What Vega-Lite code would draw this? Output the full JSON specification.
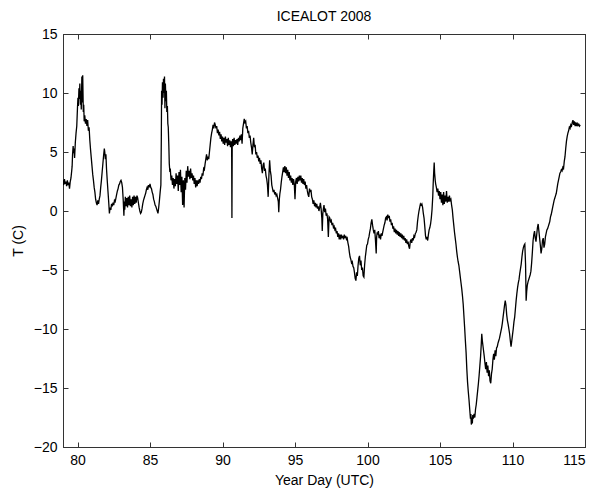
{
"$schema":"https://vega.github.io/schema/vega-lite/v6.json",
"width":522,"height":413,
"autosize":{"type":"none"},
"padding":{"left":63,"top":34,"right":15,"bottom":44},
"title":{"text":"ICEALOT 2008","fontSize":14,"font":"Liberation Sans","fontWeight":"normal","color":"#000","offset":3},
"datasets":{"s":[
{"d":79.0,"t":2.6},{"d":79.05,"t":2.2},{"d":79.1,"t":2.7},{"d":79.15,"t":2.3},{"d":79.2,"t":2.5},{"d":79.25,"t":2.1},{"d":79.3,"t":2.6},{"d":79.35,"t":2.2},{"d":79.4,"t":2.4},{"d":79.45,"t":1.9},{"d":79.5,"t":2.5},{"d":79.55,"t":2.8},{"d":79.6,"t":3.4},{"d":79.63,"t":3.8},{"d":79.66,"t":4.8},{"d":79.7,"t":5.5},{"d":79.73,"t":4.9},{"d":79.76,"t":5.3},{"d":79.8,"t":4.5},{"d":79.85,"t":5.8},{"d":79.9,"t":6.6},{"d":79.95,"t":7.2},{"d":80.0,"t":8.8},{"d":80.03,"t":9.6},{"d":80.06,"t":8.9},{"d":80.1,"t":10.4},{"d":80.13,"t":9.5},{"d":80.16,"t":10.8},{"d":80.2,"t":9.0},{"d":80.23,"t":10.2},{"d":80.26,"t":8.6},{"d":80.3,"t":11.4},{"d":80.33,"t":9.2},{"d":80.36,"t":11.5},{"d":80.4,"t":8.4},{"d":80.43,"t":9.0},{"d":80.46,"t":7.6},{"d":80.5,"t":8.1},{"d":80.55,"t":7.4},{"d":80.6,"t":7.8},{"d":80.65,"t":7.2},{"d":80.7,"t":7.7},{"d":80.75,"t":6.8},{"d":80.8,"t":7.1},{"d":80.85,"t":6.0},{"d":80.9,"t":5.2},{"d":80.95,"t":4.5},{"d":81.0,"t":3.8},{"d":81.05,"t":3.1},{"d":81.1,"t":2.6},{"d":81.15,"t":2.0},{"d":81.2,"t":1.6},{"d":81.25,"t":1.0},{"d":81.3,"t":0.7},{"d":81.35,"t":0.5},{"d":81.4,"t":0.9},{"d":81.45,"t":0.6},{"d":81.5,"t":1.0},{"d":81.55,"t":1.3},{"d":81.6,"t":2.0},{"d":81.65,"t":2.6},{"d":81.7,"t":3.3},{"d":81.75,"t":4.0},{"d":81.8,"t":4.7},{"d":81.85,"t":5.3},{"d":81.88,"t":5.0},{"d":81.92,"t":4.4},{"d":81.96,"t":4.8},{"d":82.0,"t":3.6},{"d":82.05,"t":2.6},{"d":82.1,"t":1.7},{"d":82.15,"t":0.8},{"d":82.2,"t":-0.2},{"d":82.25,"t":0.3},{"d":82.3,"t":0.1},{"d":82.35,"t":0.6},{"d":82.4,"t":0.4},{"d":82.45,"t":0.7},{"d":82.5,"t":0.5},{"d":82.55,"t":0.9},{"d":82.6,"t":0.8},{"d":82.65,"t":1.1},{"d":82.7,"t":1.4},{"d":82.75,"t":1.7},{"d":82.8,"t":1.9},{"d":82.85,"t":2.2},{"d":82.9,"t":2.3},{"d":82.95,"t":2.5},{"d":83.0,"t":2.6},{"d":83.05,"t":2.4},{"d":83.1,"t":2.0},{"d":83.15,"t":1.0},{"d":83.2,"t":-0.4},{"d":83.23,"t":0.8},{"d":83.26,"t":0.1},{"d":83.3,"t":1.2},{"d":83.35,"t":0.4},{"d":83.4,"t":1.1},{"d":83.45,"t":0.3},{"d":83.5,"t":1.2},{"d":83.55,"t":0.5},{"d":83.6,"t":1.3},{"d":83.65,"t":0.4},{"d":83.7,"t":1.0},{"d":83.75,"t":0.3},{"d":83.8,"t":1.2},{"d":83.85,"t":0.5},{"d":83.9,"t":1.3},{"d":83.95,"t":0.6},{"d":84.0,"t":1.2},{"d":84.05,"t":0.7},{"d":84.1,"t":1.3},{"d":84.15,"t":1.1},{"d":84.2,"t":0.7},{"d":84.25,"t":0.3},{"d":84.3,"t":0.0},{"d":84.35,"t":-0.2},{"d":84.4,"t":-0.1},{"d":84.45,"t":0.2},{"d":84.5,"t":0.6},{"d":84.55,"t":0.9},{"d":84.6,"t":1.1},{"d":84.65,"t":1.3},{"d":84.7,"t":1.5},{"d":84.75,"t":1.8},{"d":84.8,"t":2.0},{"d":84.85,"t":1.8},{"d":84.9,"t":2.2},{"d":84.95,"t":2.0},{"d":85.0,"t":2.3},{"d":85.05,"t":2.0},{"d":85.1,"t":1.9},{"d":85.15,"t":1.6},{"d":85.2,"t":1.4},{"d":85.25,"t":1.0},{"d":85.3,"t":0.8},{"d":85.35,"t":0.5},{"d":85.4,"t":0.4},{"d":85.45,"t":0.2},{"d":85.5,"t":0.0},{"d":85.55,"t":-0.2},{"d":85.6,"t":0.3},{"d":85.65,"t":0.9},{"d":85.7,"t":1.6},{"d":85.75,"t":2.2},{"d":85.78,"t":6.0},{"d":85.8,"t":10.2},{"d":85.83,"t":9.0},{"d":85.86,"t":10.9},{"d":85.9,"t":9.6},{"d":85.93,"t":11.2},{"d":85.96,"t":10.0},{"d":86.0,"t":11.4},{"d":86.03,"t":8.7},{"d":86.06,"t":10.8},{"d":86.1,"t":9.3},{"d":86.13,"t":10.2},{"d":86.16,"t":8.4},{"d":86.2,"t":8.9},{"d":86.23,"t":7.4},{"d":86.26,"t":7.1},{"d":86.3,"t":5.5},{"d":86.33,"t":4.0},{"d":86.37,"t":3.3},{"d":86.4,"t":3.6},{"d":86.45,"t":2.6},{"d":86.5,"t":3.0},{"d":86.55,"t":2.2},{"d":86.6,"t":2.8},{"d":86.65,"t":1.9},{"d":86.7,"t":2.7},{"d":86.75,"t":2.1},{"d":86.8,"t":3.2},{"d":86.85,"t":2.3},{"d":86.9,"t":3.0},{"d":86.95,"t":1.7},{"d":87.0,"t":3.3},{"d":87.05,"t":2.2},{"d":87.1,"t":3.5},{"d":87.15,"t":1.6},{"d":87.2,"t":2.9},{"d":87.25,"t":0.5},{"d":87.3,"t":2.6},{"d":87.35,"t":0.3},{"d":87.4,"t":2.8},{"d":87.45,"t":1.8},{"d":87.5,"t":3.4},{"d":87.55,"t":2.4},{"d":87.6,"t":3.8},{"d":87.65,"t":2.9},{"d":87.7,"t":3.4},{"d":87.75,"t":2.7},{"d":87.8,"t":3.6},{"d":87.85,"t":2.8},{"d":87.9,"t":3.2},{"d":87.95,"t":2.6},{"d":88.0,"t":3.0},{"d":88.05,"t":2.3},{"d":88.1,"t":2.8},{"d":88.15,"t":2.0},{"d":88.2,"t":2.6},{"d":88.25,"t":2.1},{"d":88.3,"t":2.6},{"d":88.35,"t":2.3},{"d":88.4,"t":2.7},{"d":88.45,"t":2.4},{"d":88.5,"t":2.9},{"d":88.55,"t":2.7},{"d":88.6,"t":3.2},{"d":88.65,"t":3.0},{"d":88.7,"t":3.6},{"d":88.75,"t":3.5},{"d":88.8,"t":4.0},{"d":88.85,"t":4.4},{"d":88.9,"t":4.8},{"d":88.95,"t":4.3},{"d":89.0,"t":4.6},{"d":89.05,"t":4.4},{"d":89.1,"t":5.0},{"d":89.15,"t":5.6},{"d":89.2,"t":6.2},{"d":89.25,"t":6.6},{"d":89.3,"t":6.9},{"d":89.35,"t":7.3},{"d":89.4,"t":7.0},{"d":89.45,"t":7.5},{"d":89.5,"t":7.3},{"d":89.55,"t":7.0},{"d":89.6,"t":7.2},{"d":89.65,"t":6.6},{"d":89.7,"t":6.9},{"d":89.75,"t":6.4},{"d":89.8,"t":6.7},{"d":89.85,"t":6.1},{"d":89.9,"t":6.5},{"d":89.95,"t":5.9},{"d":90.0,"t":6.3},{"d":90.05,"t":5.7},{"d":90.1,"t":6.2},{"d":90.15,"t":5.6},{"d":90.2,"t":6.3},{"d":90.25,"t":5.8},{"d":90.3,"t":6.1},{"d":90.35,"t":5.5},{"d":90.4,"t":6.2},{"d":90.45,"t":5.6},{"d":90.5,"t":6.0},{"d":90.55,"t":5.4},{"d":90.6,"t":5.9},{"d":90.63,"t":5.6},{"d":90.65,"t":-0.6},{"d":90.67,"t":5.7},{"d":90.7,"t":6.1},{"d":90.75,"t":5.5},{"d":90.8,"t":6.2},{"d":90.85,"t":5.6},{"d":90.9,"t":6.0},{"d":90.95,"t":5.7},{"d":91.0,"t":6.1},{"d":91.05,"t":5.6},{"d":91.1,"t":6.2},{"d":91.15,"t":5.9},{"d":91.2,"t":6.4},{"d":91.25,"t":6.0},{"d":91.3,"t":6.5},{"d":91.35,"t":5.7},{"d":91.4,"t":7.0},{"d":91.45,"t":7.4},{"d":91.5,"t":7.8},{"d":91.55,"t":7.5},{"d":91.6,"t":7.6},{"d":91.65,"t":7.0},{"d":91.7,"t":7.2},{"d":91.75,"t":6.6},{"d":91.8,"t":6.8},{"d":91.85,"t":6.2},{"d":91.9,"t":6.4},{"d":91.95,"t":5.8},{"d":92.0,"t":5.4},{"d":92.05,"t":4.8},{"d":92.1,"t":5.6},{"d":92.15,"t":6.2},{"d":92.2,"t":5.4},{"d":92.25,"t":5.6},{"d":92.3,"t":4.8},{"d":92.35,"t":5.0},{"d":92.4,"t":4.5},{"d":92.45,"t":4.7},{"d":92.5,"t":4.2},{"d":92.55,"t":4.5},{"d":92.6,"t":4.0},{"d":92.65,"t":4.3},{"d":92.7,"t":3.6},{"d":92.75,"t":3.2},{"d":92.8,"t":3.9},{"d":92.85,"t":4.1},{"d":92.9,"t":3.4},{"d":92.95,"t":3.6},{"d":93.0,"t":3.0},{"d":93.05,"t":2.7},{"d":93.1,"t":2.2},{"d":93.15,"t":1.2},{"d":93.2,"t":3.0},{"d":93.25,"t":4.3},{"d":93.3,"t":3.4},{"d":93.35,"t":3.0},{"d":93.4,"t":2.2},{"d":93.45,"t":1.9},{"d":93.5,"t":1.6},{"d":93.55,"t":1.8},{"d":93.6,"t":1.4},{"d":93.65,"t":1.6},{"d":93.7,"t":1.3},{"d":93.75,"t":1.4},{"d":93.8,"t":1.1},{"d":93.85,"t":0.8},{"d":93.88,"t":-0.1},{"d":93.92,"t":1.0},{"d":93.96,"t":1.5},{"d":94.0,"t":1.8},{"d":94.05,"t":2.4},{"d":94.1,"t":2.9},{"d":94.15,"t":3.3},{"d":94.2,"t":3.7},{"d":94.25,"t":3.3},{"d":94.3,"t":3.8},{"d":94.35,"t":3.2},{"d":94.4,"t":3.7},{"d":94.45,"t":3.0},{"d":94.5,"t":3.5},{"d":94.55,"t":2.8},{"d":94.6,"t":3.3},{"d":94.65,"t":2.6},{"d":94.7,"t":3.0},{"d":94.75,"t":2.4},{"d":94.8,"t":2.8},{"d":94.85,"t":2.2},{"d":94.9,"t":2.7},{"d":94.95,"t":2.3},{"d":95.0,"t":1.0},{"d":95.05,"t":2.5},{"d":95.1,"t":2.8},{"d":95.15,"t":2.3},{"d":95.2,"t":2.9},{"d":95.25,"t":2.5},{"d":95.3,"t":3.0},{"d":95.35,"t":2.6},{"d":95.4,"t":3.0},{"d":95.45,"t":2.4},{"d":95.5,"t":2.8},{"d":95.55,"t":2.3},{"d":95.6,"t":2.7},{"d":95.65,"t":2.2},{"d":95.7,"t":2.5},{"d":95.75,"t":1.9},{"d":95.8,"t":2.2},{"d":95.85,"t":1.7},{"d":95.9,"t":1.4},{"d":95.95,"t":1.2},{"d":96.0,"t":1.9},{"d":96.05,"t":1.6},{"d":96.1,"t":1.8},{"d":96.15,"t":1.2},{"d":96.2,"t":1.0},{"d":96.25,"t":0.6},{"d":96.3,"t":0.9},{"d":96.35,"t":0.4},{"d":96.4,"t":0.7},{"d":96.45,"t":0.3},{"d":96.5,"t":0.6},{"d":96.55,"t":0.2},{"d":96.6,"t":0.4},{"d":96.65,"t":0.0},{"d":96.7,"t":0.3},{"d":96.75,"t":0.7},{"d":96.8,"t":0.2},{"d":96.85,"t":-0.6},{"d":96.88,"t":-1.7},{"d":96.92,"t":-0.2},{"d":96.96,"t":0.2},{"d":97.0,"t":0.5},{"d":97.05,"t":-0.1},{"d":97.1,"t":0.2},{"d":97.15,"t":-0.4},{"d":97.2,"t":-0.2},{"d":97.25,"t":-0.7},{"d":97.3,"t":-2.2},{"d":97.35,"t":-0.5},{"d":97.4,"t":-0.6},{"d":97.45,"t":-0.9},{"d":97.5,"t":-0.8},{"d":97.55,"t":-1.2},{"d":97.6,"t":-1.0},{"d":97.65,"t":-1.4},{"d":97.7,"t":-1.3},{"d":97.75,"t":-1.6},{"d":97.8,"t":-1.5},{"d":97.85,"t":-1.9},{"d":97.9,"t":-1.7},{"d":97.95,"t":-2.2},{"d":98.0,"t":-1.9},{"d":98.05,"t":-2.4},{"d":98.1,"t":-2.0},{"d":98.15,"t":-2.4},{"d":98.2,"t":-2.0},{"d":98.25,"t":-2.3},{"d":98.3,"t":-2.1},{"d":98.35,"t":-2.4},{"d":98.4,"t":-2.0},{"d":98.45,"t":-2.3},{"d":98.5,"t":-2.1},{"d":98.55,"t":-2.4},{"d":98.6,"t":-2.3},{"d":98.65,"t":-2.7},{"d":98.7,"t":-3.0},{"d":98.75,"t":-3.5},{"d":98.8,"t":-3.9},{"d":98.85,"t":-4.1},{"d":98.9,"t":-4.4},{"d":98.95,"t":-4.3},{"d":99.0,"t":-4.7},{"d":99.05,"t":-4.8},{"d":99.1,"t":-5.2},{"d":99.15,"t":-5.7},{"d":99.2,"t":-5.9},{"d":99.25,"t":-5.2},{"d":99.3,"t":-5.5},{"d":99.35,"t":-4.6},{"d":99.4,"t":-4.0},{"d":99.45,"t":-3.8},{"d":99.5,"t":-4.6},{"d":99.55,"t":-4.2},{"d":99.6,"t":-5.0},{"d":99.65,"t":-4.8},{"d":99.7,"t":-5.5},{"d":99.75,"t":-5.6},{"d":99.8,"t":-4.6},{"d":99.85,"t":-3.9},{"d":99.9,"t":-3.4},{"d":99.95,"t":-2.9},{"d":100.0,"t":-2.8},{"d":100.05,"t":-2.4},{"d":100.1,"t":-2.2},{"d":100.15,"t":-1.8},{"d":100.2,"t":-1.5},{"d":100.25,"t":-1.0},{"d":100.3,"t":-0.7},{"d":100.35,"t":-1.2},{"d":100.4,"t":-1.6},{"d":100.45,"t":-1.9},{"d":100.5,"t":-1.6},{"d":100.55,"t":-2.5},{"d":100.6,"t":-3.6},{"d":100.63,"t":-2.2},{"d":100.67,"t":-1.8},{"d":100.7,"t":-2.0},{"d":100.75,"t":-1.7},{"d":100.8,"t":-2.3},{"d":100.85,"t":-2.0},{"d":100.9,"t":-2.4},{"d":100.95,"t":-1.9},{"d":101.0,"t":-2.1},{"d":101.05,"t":-1.8},{"d":101.1,"t":-1.5},{"d":101.15,"t":-1.2},{"d":101.2,"t":-1.0},{"d":101.25,"t":-0.6},{"d":101.3,"t":-0.5},{"d":101.35,"t":-0.8},{"d":101.4,"t":-0.3},{"d":101.45,"t":-0.6},{"d":101.5,"t":-0.4},{"d":101.55,"t":-0.9},{"d":101.6,"t":-0.7},{"d":101.65,"t":-1.2},{"d":101.7,"t":-1.0},{"d":101.75,"t":-1.5},{"d":101.8,"t":-1.3},{"d":101.85,"t":-1.8},{"d":101.9,"t":-1.5},{"d":101.95,"t":-1.9},{"d":102.0,"t":-1.6},{"d":102.05,"t":-2.0},{"d":102.1,"t":-1.7},{"d":102.15,"t":-2.1},{"d":102.2,"t":-1.8},{"d":102.25,"t":-2.2},{"d":102.3,"t":-1.9},{"d":102.35,"t":-2.3},{"d":102.4,"t":-2.0},{"d":102.45,"t":-2.4},{"d":102.5,"t":-2.1},{"d":102.55,"t":-2.5},{"d":102.6,"t":-2.3},{"d":102.65,"t":-2.7},{"d":102.7,"t":-2.4},{"d":102.75,"t":-2.8},{"d":102.8,"t":-2.6},{"d":102.85,"t":-3.0},{"d":102.9,"t":-3.2},{"d":102.95,"t":-2.6},{"d":103.0,"t":-2.4},{"d":103.05,"t":-2.7},{"d":103.1,"t":-2.3},{"d":103.15,"t":-2.5},{"d":103.2,"t":-2.1},{"d":103.25,"t":-2.2},{"d":103.3,"t":-1.9},{"d":103.35,"t":-1.8},{"d":103.4,"t":-1.6},{"d":103.45,"t":-0.9},{"d":103.5,"t":-0.4},{"d":103.55,"t":0.0},{"d":103.6,"t":0.3},{"d":103.65,"t":0.6},{"d":103.7,"t":0.5},{"d":103.75,"t":0.6},{"d":103.8,"t":0.3},{"d":103.85,"t":-0.2},{"d":103.9,"t":-0.6},{"d":103.95,"t":-1.3},{"d":104.0,"t":-2.1},{"d":104.05,"t":-2.4},{"d":104.1,"t":-2.2},{"d":104.15,"t":-2.5},{"d":104.2,"t":-2.0},{"d":104.25,"t":-1.6},{"d":104.3,"t":-1.4},{"d":104.35,"t":-1.1},{"d":104.4,"t":-0.6},{"d":104.45,"t":0.1},{"d":104.5,"t":1.2},{"d":104.53,"t":2.3},{"d":104.57,"t":3.4},{"d":104.6,"t":4.1},{"d":104.63,"t":3.2},{"d":104.67,"t":2.6},{"d":104.7,"t":2.3},{"d":104.75,"t":2.0},{"d":104.8,"t":1.6},{"d":104.85,"t":1.9},{"d":104.9,"t":1.3},{"d":104.95,"t":1.7},{"d":105.0,"t":1.0},{"d":105.05,"t":1.6},{"d":105.1,"t":0.7},{"d":105.15,"t":1.4},{"d":105.2,"t":0.5},{"d":105.25,"t":1.6},{"d":105.3,"t":0.6},{"d":105.35,"t":1.3},{"d":105.4,"t":0.8},{"d":105.45,"t":1.7},{"d":105.5,"t":0.7},{"d":105.55,"t":1.2},{"d":105.6,"t":0.8},{"d":105.65,"t":1.3},{"d":105.7,"t":0.9},{"d":105.75,"t":1.0},{"d":105.8,"t":0.5},{"d":105.85,"t":0.1},{"d":105.9,"t":-0.6},{"d":105.95,"t":-1.2},{"d":106.0,"t":-1.8},{"d":106.05,"t":-2.3},{"d":106.1,"t":-2.8},{"d":106.15,"t":-3.4},{"d":106.2,"t":-3.9},{"d":106.25,"t":-4.3},{"d":106.3,"t":-4.6},{"d":106.35,"t":-5.1},{"d":106.4,"t":-5.6},{"d":106.45,"t":-6.1},{"d":106.5,"t":-6.6},{"d":106.55,"t":-7.2},{"d":106.6,"t":-7.9},{"d":106.65,"t":-8.9},{"d":106.7,"t":-9.9},{"d":106.75,"t":-11.0},{"d":106.8,"t":-12.0},{"d":106.85,"t":-13.4},{"d":106.9,"t":-14.5},{"d":106.95,"t":-15.3},{"d":107.0,"t":-16.0},{"d":107.05,"t":-16.8},{"d":107.1,"t":-17.6},{"d":107.13,"t":-17.2},{"d":107.16,"t":-18.1},{"d":107.2,"t":-17.5},{"d":107.23,"t":-18.0},{"d":107.26,"t":-17.3},{"d":107.3,"t":-17.6},{"d":107.35,"t":-17.2},{"d":107.4,"t":-17.5},{"d":107.45,"t":-16.8},{"d":107.5,"t":-16.4},{"d":107.55,"t":-15.8},{"d":107.6,"t":-15.2},{"d":107.65,"t":-14.6},{"d":107.7,"t":-13.9},{"d":107.75,"t":-13.1},{"d":107.8,"t":-12.3},{"d":107.85,"t":-11.2},{"d":107.88,"t":-10.4},{"d":107.92,"t":-11.0},{"d":107.96,"t":-11.4},{"d":108.0,"t":-11.8},{"d":108.05,"t":-12.3},{"d":108.1,"t":-12.9},{"d":108.15,"t":-13.4},{"d":108.2,"t":-12.8},{"d":108.25,"t":-13.7},{"d":108.3,"t":-13.1},{"d":108.35,"t":-14.0},{"d":108.4,"t":-13.5},{"d":108.45,"t":-14.4},{"d":108.5,"t":-14.6},{"d":108.55,"t":-13.8},{"d":108.6,"t":-13.4},{"d":108.65,"t":-12.6},{"d":108.7,"t":-12.1},{"d":108.75,"t":-12.6},{"d":108.8,"t":-11.8},{"d":108.85,"t":-12.3},{"d":108.9,"t":-11.6},{"d":108.95,"t":-11.5},{"d":109.0,"t":-11.2},{"d":109.05,"t":-11.0},{"d":109.1,"t":-10.8},{"d":109.15,"t":-10.5},{"d":109.2,"t":-10.2},{"d":109.25,"t":-9.9},{"d":109.3,"t":-9.5},{"d":109.35,"t":-9.0},{"d":109.4,"t":-8.5},{"d":109.45,"t":-8.0},{"d":109.5,"t":-7.6},{"d":109.55,"t":-8.0},{"d":109.6,"t":-8.8},{"d":109.65,"t":-9.3},{"d":109.7,"t":-9.6},{"d":109.75,"t":-10.0},{"d":109.8,"t":-10.4},{"d":109.85,"t":-11.0},{"d":109.9,"t":-11.5},{"d":109.95,"t":-11.0},{"d":110.0,"t":-10.5},{"d":110.05,"t":-10.0},{"d":110.1,"t":-9.4},{"d":110.15,"t":-9.0},{"d":110.2,"t":-8.3},{"d":110.25,"t":-7.6},{"d":110.3,"t":-7.0},{"d":110.35,"t":-6.5},{"d":110.4,"t":-6.1},{"d":110.45,"t":-5.8},{"d":110.5,"t":-5.3},{"d":110.55,"t":-4.9},{"d":110.6,"t":-4.5},{"d":110.65,"t":-3.9},{"d":110.7,"t":-3.4},{"d":110.75,"t":-3.1},{"d":110.8,"t":-2.9},{"d":110.85,"t":-2.8},{"d":110.9,"t":-4.5},{"d":110.94,"t":-7.6},{"d":110.98,"t":-6.8},{"d":111.02,"t":-6.3},{"d":111.07,"t":-6.0},{"d":111.12,"t":-5.8},{"d":111.17,"t":-5.6},{"d":111.22,"t":-5.4},{"d":111.27,"t":-5.1},{"d":111.32,"t":-4.4},{"d":111.37,"t":-3.5},{"d":111.42,"t":-2.5},{"d":111.47,"t":-2.0},{"d":111.52,"t":-1.7},{"d":111.57,"t":-2.3},{"d":111.62,"t":-2.6},{"d":111.67,"t":-2.0},{"d":111.72,"t":-1.4},{"d":111.77,"t":-1.1},{"d":111.82,"t":-1.7},{"d":111.87,"t":-2.3},{"d":111.92,"t":-2.9},{"d":111.97,"t":-3.6},{"d":112.02,"t":-3.2},{"d":112.07,"t":-2.5},{"d":112.12,"t":-2.3},{"d":112.17,"t":-3.1},{"d":112.22,"t":-2.8},{"d":112.27,"t":-2.2},{"d":112.32,"t":-1.9},{"d":112.37,"t":-1.6},{"d":112.42,"t":-1.5},{"d":112.47,"t":-1.3},{"d":112.52,"t":-1.1},{"d":112.57,"t":-0.9},{"d":112.62,"t":-0.5},{"d":112.67,"t":-0.3},{"d":112.72,"t":0.0},{"d":112.77,"t":0.3},{"d":112.82,"t":0.6},{"d":112.87,"t":0.9},{"d":112.92,"t":1.1},{"d":112.97,"t":1.3},{"d":113.02,"t":1.5},{"d":113.07,"t":1.9},{"d":113.12,"t":2.3},{"d":113.17,"t":2.6},{"d":113.22,"t":2.9},{"d":113.27,"t":3.2},{"d":113.32,"t":3.3},{"d":113.37,"t":3.5},{"d":113.42,"t":3.4},{"d":113.47,"t":3.7},{"d":113.52,"t":3.6},{"d":113.57,"t":4.2},{"d":113.62,"t":4.6},{"d":113.67,"t":5.3},{"d":113.72,"t":5.9},{"d":113.77,"t":6.3},{"d":113.82,"t":6.6},{"d":113.87,"t":6.8},{"d":113.92,"t":7.1},{"d":113.97,"t":7.0},{"d":114.02,"t":7.3},{"d":114.07,"t":7.2},{"d":114.12,"t":7.5},{"d":114.17,"t":7.7},{"d":114.22,"t":7.3},{"d":114.27,"t":7.6},{"d":114.32,"t":7.2},{"d":114.37,"t":7.5},{"d":114.42,"t":7.2},{"d":114.47,"t":7.4},{"d":114.52,"t":7.25},{"d":114.57,"t":7.35},{"d":114.62,"t":7.2},{"d":114.67,"t":7.3}
]},
"data":{"name":"s"},
"layer":[
{"mark":{"type":"line","color":"#000000","strokeWidth":1.3,"clip":true},
 "encoding":{
  "x":{"field":"d","type":"quantitative","scale":{"domain":[79,115],"nice":false,"zero":false},
       "axis":{"orient":"bottom","values":[80,85,90,95,100,105,110,115],"title":"Year Day (UTC)","tickSize":-5,"labelPadding":11,"titlePadding":6}},
  "y":{"field":"t","type":"quantitative","scale":{"domain":[-20,15],"nice":false,"zero":false},
       "axis":{"orient":"left","values":[-20,-15,-10,-5,0,5,10,15],"title":"T (C)","tickSize":-5,"labelPadding":11,"titlePadding":8}}}},
{"mark":{"type":"line","opacity":0},
 "encoding":{
  "x":{"field":"d","type":"quantitative","axis":{"orient":"top","values":[80,85,90,95,100,105,110,115],"labels":false,"title":null,"tickSize":-5}},
  "y":{"field":"t","type":"quantitative","axis":{"orient":"right","values":[-20,-15,-10,-5,0,5,10,15],"labels":false,"title":null,"tickSize":-5}}}}
],
"resolve":{"axis":{"x":"independent","y":"independent"}},
"config":{
 "view":{"stroke":"#333333"},
 "axis":{"grid":false,"domainColor":"#333333","tickColor":"#333333","labelFont":"Liberation Sans","labelFontSize":14,"labelColor":"#000000","titleFont":"Liberation Sans","titleFontSize":14,"titleFontWeight":"normal","titleColor":"#000000"}
}
}
